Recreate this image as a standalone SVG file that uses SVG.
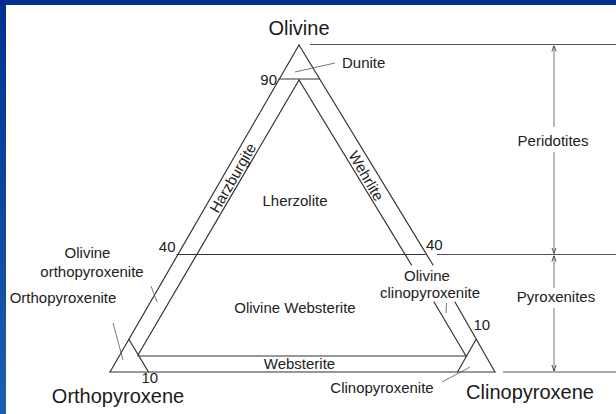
<svg xmlns="http://www.w3.org/2000/svg" width="616" height="414" viewBox="0 0 616 414">
  <defs>
    <linearGradient id="sideBlue" x1="0" y1="0" x2="0" y2="1">
      <stop offset="0" stop-color="#00308f"/>
      <stop offset="1" stop-color="#1d5fae"/>
    </linearGradient>
    <marker id="arr" viewBox="0 0 10 10" refX="10" refY="5" markerWidth="6" markerHeight="6" orient="auto-start-reverse" markerUnits="userSpaceOnUse">
      <path d="M0,1.5 L10,5 L0,8.5" fill="none" stroke="#333" stroke-width="1.4"/>
    </marker>
    <style>
      .ln { stroke: #333; stroke-width: 1.2; fill: none; stroke-linecap: round; }
      .gd { stroke: #555; stroke-width: 1; fill: none; }
      .ld { stroke: #555; stroke-width: 0.8; fill: none; }
      .big { font-family: "Liberation Sans", Arial, sans-serif; font-size: 20px; fill: #1a1a1a; }
      .sm { font-family: "Liberation Sans", Arial, sans-serif; font-size: 15px; fill: #222; }
      .mid { text-anchor: middle; }
      .end { text-anchor: end; }
    </style>
  </defs>

  <rect x="0" y="0" width="616" height="414" fill="#ffffff"/>
  <rect x="0" y="0" width="616" height="5" fill="#00308f"/>
  <rect x="0" y="0" width="6" height="414" fill="url(#sideBlue)"/>

  <g id="triangle">
    <line class="ln" x1="299" y1="45" x2="110" y2="372"/>
    <path class="ln" d="M299,45 L433,265 M455,302 L495,372"/>
    <line class="ln" x1="110" y1="372" x2="495" y2="372"/>
    <line class="ln" x1="279" y1="79" x2="319.5" y2="79" stroke-width="1.6"/>
    <line class="ln" x1="299" y1="80" x2="138" y2="355"/>
    <path class="ln" d="M299,80 L411.5,265 M434,302 L466,356"/>
    <line class="ln" x1="177" y1="254.5" x2="425" y2="254.5"/>
    <line class="ln" x1="138" y1="356" x2="466" y2="356"/>
    <line class="ln" x1="148.5" y1="372" x2="129" y2="339.5"/>
    <line class="ln" x1="457.5" y1="372" x2="476" y2="339.5"/>
  </g>

  <g id="leaders">
    <line class="ld" x1="295" y1="72" x2="335" y2="63"/>
    <line class="ld" x1="151" y1="286" x2="157" y2="302"/>
    <line class="ld" x1="113" y1="323" x2="123" y2="360"/>
    <line class="ld" x1="446.5" y1="303" x2="446" y2="313"/>
    <line class="ld" x1="442" y1="382" x2="470" y2="367"/>
  </g>

  <g id="scale">
    <line class="gd" x1="310" y1="44.5" x2="616" y2="44.5"/>
    <line class="gd" x1="437" y1="254.5" x2="616" y2="254.5"/>
    <line class="gd" x1="503" y1="372" x2="616" y2="372"/>
    <line class="ld" x1="554" y1="127" x2="554" y2="45.5" marker-end="url(#arr)"/>
    <line class="ld" x1="554" y1="152" x2="554" y2="253.5" marker-end="url(#arr)"/>
    <line class="ld" x1="554" y1="288" x2="554" y2="255.5" marker-end="url(#arr)"/>
    <line class="ld" x1="554" y1="308" x2="554" y2="371" marker-end="url(#arr)"/>
  </g>

  <g id="vertex-labels">
    <text class="big mid" x="299" y="35">Olivine</text>
    <text class="big mid" x="118" y="403">Orthopyroxene</text>
    <text class="big mid" x="530" y="399">Clinopyroxene</text>
  </g>

  <g id="field-labels">
    <text class="sm" x="342" y="68">Dunite</text>
    <text class="sm end" x="277" y="84.5">90</text>
    <text class="sm mid" transform="translate(233,178) rotate(-60)" x="0" y="5">Harzburgite</text>
    <text class="sm mid" transform="translate(366,176) rotate(60)" x="0" y="5">Wehrlite</text>
    <text class="sm mid" x="295" y="206">Lherzolite</text>
    <text class="sm end" x="175.5" y="252">40</text>
    <text class="sm" x="426" y="250">40</text>
    <text class="sm mid" x="87.5" y="258">Olivine</text>
    <text class="sm mid" x="92" y="277">orthopyroxenite</text>
    <text class="sm mid" x="63" y="303">Orthopyroxenite</text>
    <text class="sm mid" x="295" y="313">Olivine Websterite</text>
    <text class="sm mid" x="427" y="280.5">Olivine</text>
    <text class="sm mid" x="430" y="297.5">clinopyroxenite</text>
    <text class="sm" x="473.5" y="330">10</text>
    <text class="sm mid" x="299.5" y="369">Websterite</text>
    <text class="sm" x="141.5" y="382.5">10</text>
    <text class="sm mid" x="382" y="393">Clinopyroxenite</text>
    <text class="sm mid" x="553" y="146">Peridotites</text>
    <text class="sm mid" x="556" y="302">Pyroxenites</text>
  </g>
</svg>
